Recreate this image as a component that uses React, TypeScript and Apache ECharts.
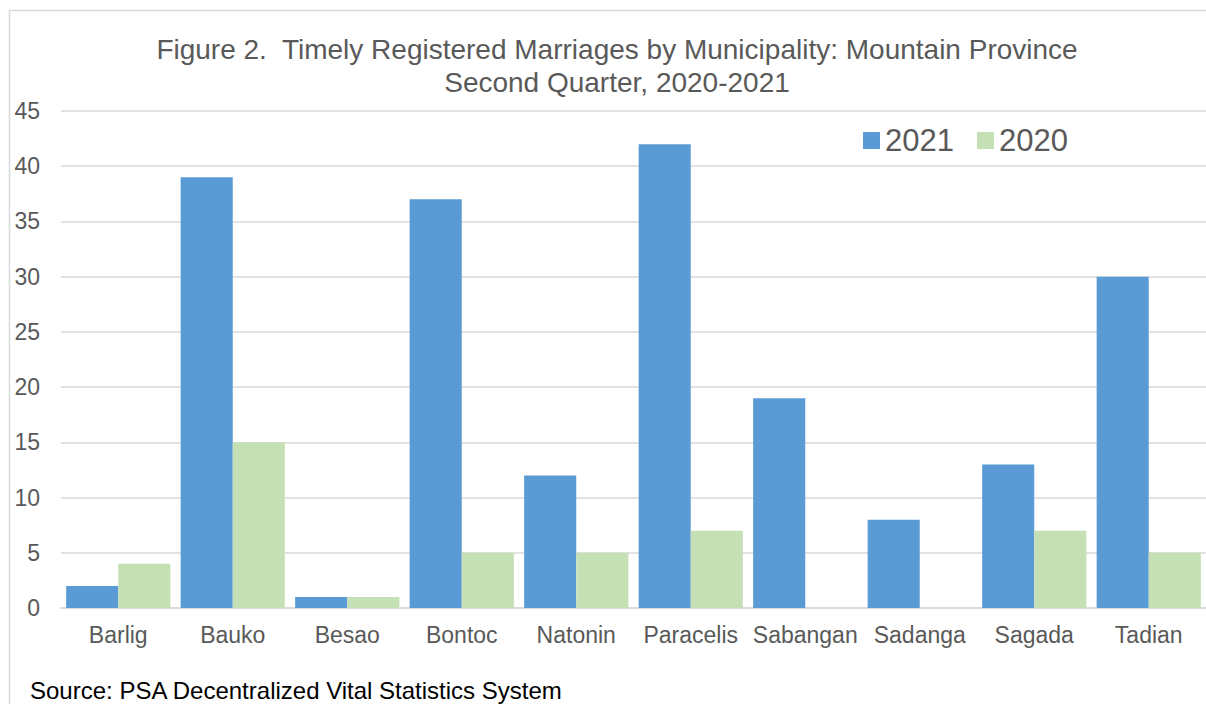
import React, { useEffect, useRef } from "react";
import * as echarts from "echarts";

const categories = ["Barlig", "Bauko", "Besao", "Bontoc", "Natonin", "Paracelis", "Sabangan", "Sadanga", "Sagada", "Tadian"];
const values2021 = [2, 39, 1, 37, 12, 42, 19, 8, 13, 30];
const values2020 = [4, 15, 1, 5, 5, 7, 0, 0, 7, 5];
const seriesNames = ["2021", "2020"];
const titleLines = ["Figure 2.  Timely Registered Marriages by Municipality: Mountain Province", "Second Quarter, 2020-2021"];
const sourceText = "Source: PSA Decentralized Vital Statistics System";

const FONT = "'Liberation Sans', Arial, sans-serif";
const TEXT = "#595959";
const GRID = "#d9d9d9";

export default function App() {
  const ref = useRef<HTMLDivElement>(null);
  useEffect(() => {
    if (!ref.current) return;
    const chart = echarts.init(ref.current, null, { renderer: "svg" });
    chart.setOption({
      animation: false,
      backgroundColor: "#fff",
      textStyle: { fontFamily: FONT },
      title: {
        text: titleLines.join("\n"),
        left: 612,
        textAlign: "center",
        top: 28,
        textStyle: { fontFamily: FONT, fontSize: 28, fontWeight: "normal", color: TEXT, lineHeight: 33 },
      },
      legend: {
        data: seriesNames,
        left: 858,
        top: 120,
        icon: "rect",
        itemWidth: 17,
        itemHeight: 17,
        itemGap: 23,
        textStyle: { fontFamily: FONT, fontSize: 31, color: TEXT },
      },
      grid: { left: 61, top: 111, width: 1146, height: 497, containLabel: false },
      xAxis: {
        type: "category",
        data: categories,
        axisLine: { lineStyle: { color: GRID, width: 1.5 } },
        axisTick: { show: false },
        axisLabel: { fontFamily: FONT, fontSize: 23, color: TEXT, margin: 15, interval: 0 },
      },
      yAxis: {
        type: "value",
        min: 0,
        max: 45,
        interval: 5,
        axisLine: { show: false },
        axisTick: { show: false },
        splitLine: { lineStyle: { color: GRID, width: 1.5 } },
        axisLabel: { fontFamily: FONT, fontSize: 23, color: TEXT, margin: 21 },
      },
      series: [
        { name: seriesNames[0], type: "bar", data: values2021, itemStyle: { color: "#5b9bd5" }, barGap: "0%", barCategoryGap: "9%" },
        { name: seriesNames[1], type: "bar", data: values2020, itemStyle: { color: "#c5e0b4" }, barGap: "0%", barCategoryGap: "9%" },
      ],
      graphic: [
        {
          type: "rect",
          silent: true,
          shape: { x: 9.5, y: 10.5, width: 1400, height: 900 },
          style: { fill: "none", stroke: GRID, lineWidth: 1.5 },
          z: 100,
        },
        {
          type: "text",
          x: 30,
          y: 678,
          style: { text: sourceText, fontFamily: FONT, fontSize: 24, lineHeight: 24, fill: "#000" },
        },
      ],
    });
    return () => chart.dispose();
  }, []);
  return <div ref={ref} style={{ position: "fixed", left: 0, top: 0, width: 1206, height: 704 }} />;
}
